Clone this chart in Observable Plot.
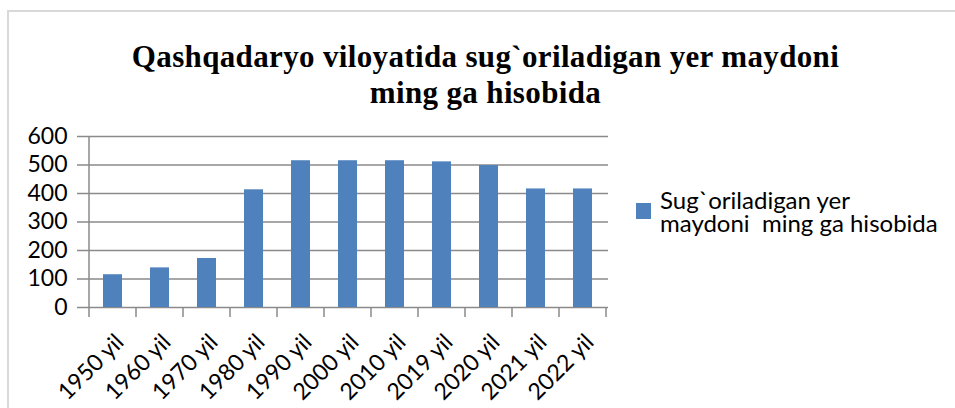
<!DOCTYPE html>
<html><head><meta charset="utf-8">
<script src="https://cdn.jsdelivr.net/npm/d3@7"></script>
<script src="https://cdn.jsdelivr.net/npm/@observablehq/plot@0.6"></script>
<style>
body{margin:0;background:#fff;}
#chart{position:relative;width:955px;height:408px;overflow:hidden;background:#fff;}
#frame{position:absolute;left:7px;top:10px;width:990px;height:440px;border:2px solid #d9d9d9;box-sizing:border-box;}
#title{position:absolute;left:0;width:971px;top:39px;text-align:center;font-family:"Liberation Serif",serif;font-weight:bold;font-size:31px;line-height:36px;letter-spacing:0.35px;color:#000;}
#plot{position:absolute;left:0;top:0;}
#legend{position:absolute;left:636px;top:188px;font-family:Lato,sans-serif;font-size:24px;line-height:23px;color:#000;display:flex;align-items:center;}
#legend .sw{width:15px;height:16px;background:#4f81bd;margin-right:9px;flex:none;}
#legend .tx{white-space:pre;}
</style>
</head><body>
<div id="chart">
  <div id="frame"></div>
  <div id="plot"></div>
  <div id="title"></div>
  <div id="legend"><div class="sw"></div><div class="tx"></div></div>
</div>
<script>
const titleLines = ["Qashqadaryo viloyatida sug`oriladigan yer maydoni", "ming ga hisobida"];
const seriesName = ["Sug`oriladigan yer", "maydoni  ming ga hisobida"];
const categories = ["1950 yil","1960 yil","1970 yil","1980 yil","1990 yil","2000 yil","2010 yil","2019 yil","2020 yil","2021 yil","2022 yil"];
const values = [115, 139, 172, 413, 515, 515, 515, 511, 498, 416, 416];
const yTicks = [0, 100, 200, 300, 400, 500, 600];

document.getElementById("title").innerHTML = titleLines.join("<br>");
document.querySelector("#legend .tx").textContent = seriesName.join("\n");

const data = categories.map((c, i) => ({cat: c, val: values[i]}));
const gridColor = "#8a8a8a";

const plot = Plot.plot({
  width: 955,
  height: 408,
  marginLeft: 87,
  marginRight: 347,
  marginTop: 136,
  marginBottom: 101,
  style: {fontFamily: "Lato, sans-serif", fontSize: "23px", background: "transparent", color: "#000"},
  x: {type: "band", domain: categories, paddingInner: 0.6, paddingOuter: 0.3},
  y: {domain: [0, 600]},
  marks: [
    Plot.gridY(yTicks, {stroke: gridColor, strokeOpacity: 1, strokeWidth: 1.5}),
    Plot.axisY(yTicks, {tickSize: 10, tickPadding: 10, stroke: gridColor, strokeWidth: 1.5, fill: "#000", fontSize: 23, label: null}),
    Plot.barY(data, {x: "cat", y: "val", fill: "#4f81bd"}),
    Plot.axisX({tickRotate: -45, tickSize: 0, tickPadding: 31, dx: 7, fill: "#000", fontSize: 23, label: null})
  ]
});
document.getElementById("plot").appendChild(plot);

// category boundary ticks and the vertical axis line, from Plot's own scales
const sx = plot.scale("x"), sy = plot.scale("y");
const off = (sx.step - sx.bandwidth) / 2;
const bounds = categories.map(c => sx.apply(c) - off);
bounds.push(sx.apply(categories[categories.length - 1]) - off + sx.step);
const y0 = sy.apply(0), yTop = sy.apply(yTicks[yTicks.length - 1]);
const g = d3.select(plot).append("g").attr("stroke", gridColor).attr("stroke-width", 1.5);
bounds.forEach((bx, i) => {
  g.append("line").attr("x1", bx).attr("x2", bx)
    .attr("y1", i === 0 ? yTop : y0).attr("y2", y0 + 10);
});
</script>
</body></html>
